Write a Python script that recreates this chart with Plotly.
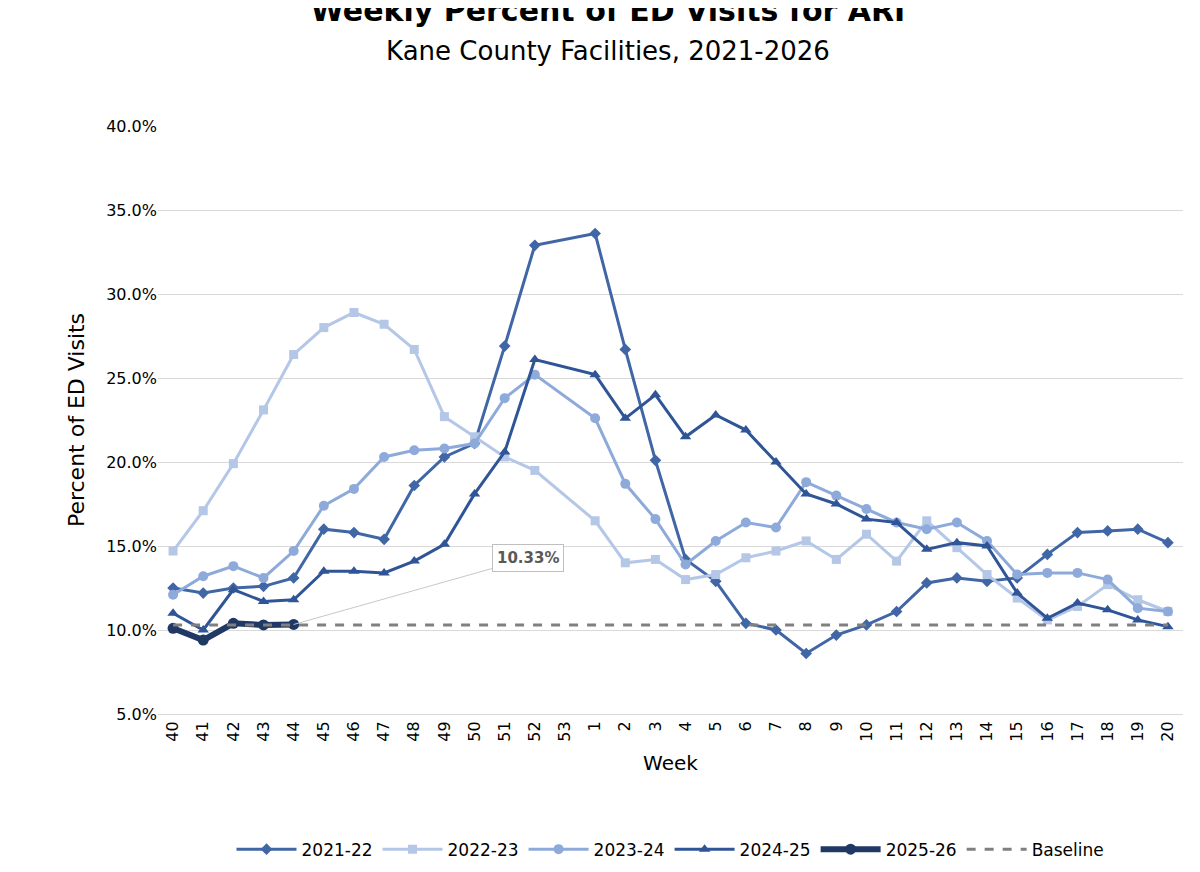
import plotly.graph_objs as go

weeks = [str(w) for w in list(range(40, 54)) + list(range(1, 21))]

s2122 = [12.5, 12.2, 12.5, 12.6, 13.1, 16.0, 15.8, 15.4, 18.6, 20.3, 21.1, 26.9, 32.9, None,
         33.6, 26.7, 20.1, 14.2, 12.9, 10.4, 10.0, 8.6, 9.7, 10.3, 11.1, 12.8, 13.1, 12.9,
         13.1, 14.5, 15.8, 15.9, 16.0, 15.2]
s2223 = [14.7, 17.1, 19.9, 23.1, 26.4, 28.0, 28.9, 28.2, 26.7, 22.7, 21.5, 20.3, 19.5, None,
         16.5, 14.0, 14.2, 13.0, 13.3, 14.3, 14.7, 15.3, 14.2, 15.7, 14.1, 16.5, 14.9, 13.3,
         11.9, 10.6, 11.4, 12.7, 11.8, 11.1]
s2324 = [12.1, 13.2, 13.8, 13.1, 14.7, 17.4, 18.4, 20.3, 20.7, 20.8, 21.1, 23.8, 25.2, None,
         22.6, 18.7, 16.6, 13.9, 15.3, 16.4, 16.1, 18.8, 18.0, 17.2, 16.4, 16.0, 16.4, 15.3,
         13.3, 13.4, 13.4, 13.0, 11.3, 11.1]
s2425 = [11.0, 10.0, 12.4, 11.7, 11.8, 13.5, 13.5, 13.4, 14.1, 15.1, 18.1, 20.6, 26.1, None,
         25.2, 22.6, 24.0, 21.5, 22.8, 21.9, 20.0, 18.1, 17.5, 16.6, 16.4, 14.8, 15.2, 15.0,
         12.2, 10.7, 11.6, 11.2, 10.6, 10.2]
s2526 = [10.1, 9.4, 10.4, 10.3, 10.33]
baseline = 10.3

fig = go.Figure()

series = [
    ("2021-22", s2122, "#4066a6", "diamond", 3, 9),
    ("2022-23", s2223, "#b4c7e7", "square", 3, 9),
    ("2023-24", s2324, "#8eaadb", "circle", 3, 10),
    ("2024-25", s2425, "#2f5597", "triangle-up", 3, 10),
]
for name, vals, color, sym, w, ms in series:
    fig.add_trace(go.Scatter(x=weeks, y=vals, name=name, mode="lines+markers",
                             connectgaps=True, line=dict(color=color, width=w),
                             marker=dict(symbol=sym, size=ms, color=color)))

fig.add_trace(go.Scatter(x=weeks[:len(s2526)], y=s2526, name="2025-26", mode="lines+markers",
                         line=dict(color="#1f3864", width=6),
                         marker=dict(symbol="circle", size=11, color="#1f3864")))

fig.add_trace(go.Scatter(x=weeks, y=[baseline] * len(weeks), name="Baseline", mode="lines",
                         line=dict(color="#808080", width=3, dash="dash")))

# annotation on category axis: use the index of the last 2025-26 point
fig.add_annotation(x=len(s2526) - 1, y=s2526[-1], text="<b>10.33%</b>", showarrow=True,
                   arrowhead=0, arrowcolor="#c8c8c8", arrowwidth=1, ax=234, ay=-66,
                   bgcolor="white", bordercolor="#bfbfbf", borderwidth=1, borderpad=4,
                   font=dict(size=15, color="#595959"))

fig.update_layout(
    width=1200, height=872,
    paper_bgcolor="white", plot_bgcolor="white",
    font=dict(family="DejaVu Sans", color="#000000"),
    title=dict(text="<b>Weekly Percent of ED Visits for ARI</b><br><span style='font-size:26px'>Kane County Facilities, 2021-2026</span>",
               x=0.5, xanchor="center", y=0.985, yanchor="top", font=dict(size=30)),
    margin=dict(l=150, r=25, t=118, b=142),
    legend=dict(orientation="h", x=0.5, xanchor="center", y=-0.2, yanchor="top",
                font=dict(size=17), itemwidth=60),
    showlegend=True,
)
fig.update_xaxes(type="category", tickangle=-90, tickfont=dict(size=16), dtick=1,
                 range=[-0.5, len(weeks) - 0.5],
                 title=dict(text="Week", font=dict(size=20)), showgrid=False,
                 showline=True, linecolor="#d9d9d9")
fig.update_yaxes(range=[5, 40], dtick=5, ticksuffix="%", tickformat=".1f",
                 tickfont=dict(size=16), gridcolor="#d9d9d9",
                 title=dict(text="Percent of ED Visits", font=dict(size=22)), zeroline=False)

fig.write_html("out.html")
